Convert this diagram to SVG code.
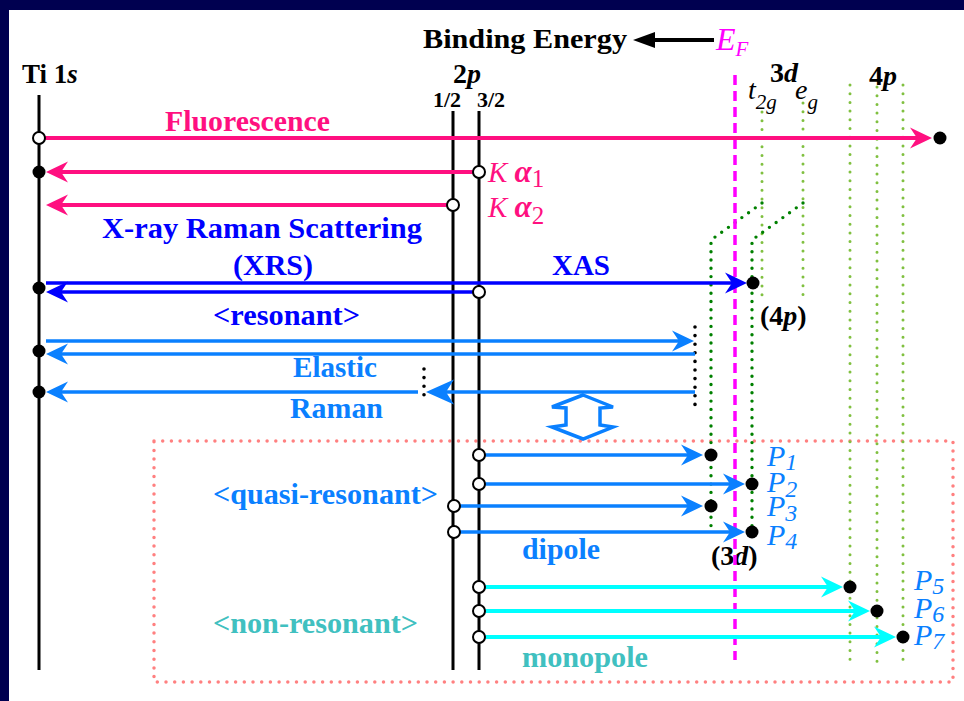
<svg xmlns="http://www.w3.org/2000/svg" width="964" height="701" viewBox="0 0 964 701">
<defs>
<style>
text{font-family:"Liberation Serif","Times New Roman",serif;}
.b{font-weight:bold}
.i{font-style:italic}
.lvl{stroke:#000;stroke-width:3;fill:none}
.dg{stroke:#80C040;stroke-width:3;stroke-dasharray:0 8.7;stroke-linecap:round;fill:none}
.ddg{stroke:#008000;stroke-width:3.4;stroke-dasharray:0 8.3;stroke-linecap:round;fill:none}
.kd{stroke:#000;stroke-width:3.6;stroke-dasharray:0 8.6;stroke-linecap:round;fill:none}
.open{fill:#fff;stroke:#000;stroke-width:2}
.dot{fill:#000}
.pk{stroke:#FF1080;stroke-width:4;fill:none}
.bl{stroke:#0000FF;stroke-width:3.5;fill:none}
.mb{stroke:#0A80FF;stroke-width:3.5;fill:none}
.cy{stroke:#00FFFF;stroke-width:4;fill:none}
.tpk{fill:#FF1080}
.tbl{fill:#0000FF}
.tmb{fill:#0A80FF}
.ttl{fill:#40C0C0}
</style>
<marker id="mPk" markerUnits="userSpaceOnUse" orient="auto" overflow="visible" markerWidth="24" markerHeight="24"><path d="M10,0 L-12,-10.5 L-5,0 L-12,10.5 Z" fill="#FF1080"/></marker>
<marker id="mBl" markerUnits="userSpaceOnUse" orient="auto" overflow="visible" markerWidth="24" markerHeight="24"><path d="M10,0 L-12,-10.5 L-5,0 L-12,10.5 Z" fill="#0000FF"/></marker>
<marker id="mMb" markerUnits="userSpaceOnUse" orient="auto" overflow="visible" markerWidth="24" markerHeight="24"><path d="M10,0 L-12,-10.5 L-5,0 L-12,10.5 Z" fill="#0A80FF"/></marker>
<marker id="mMbBig" markerUnits="userSpaceOnUse" orient="auto" overflow="visible" markerWidth="30" markerHeight="30"><path d="M12,0 L-16,-12.5 L-8,0 L-16,12.5 Z" fill="#0A80FF"/></marker>
<marker id="mCy" markerUnits="userSpaceOnUse" orient="auto" overflow="visible" markerWidth="24" markerHeight="24"><path d="M10,0 L-12,-10.5 L-5,0 L-12,10.5 Z" fill="#00FFFF"/></marker>
</defs>

<rect x="0" y="0" width="964" height="701" fill="#000050"/>
<rect x="9" y="10" width="955" height="691" fill="#FFFFFF"/>

<g id="title">
<text x="423" y="48" class="b" font-size="28" textLength="204" lengthAdjust="spacingAndGlyphs">Binding Energy</text>
<line x1="714" y1="40" x2="650" y2="40" stroke="#000" stroke-width="4"/>
<polygon points="633,40 655,32 655,48" fill="#000"/>
<text x="716" y="50" class="i" font-size="32" fill="#FF00FF">E<tspan font-size="21" dy="6">F</tspan></text>
</g>

<g id="box-nonresonant-region">
<rect x="154" y="441" width="799" height="241" fill="none" stroke="#FF8080" stroke-width="3.5" stroke-dasharray="0 8.7" stroke-linecap="round"/>
</g>

<g id="level-3d">
<path class="dg" d="M762,112 V298"/>
<path class="dg" d="M803,103 V300"/>
<path class="ddg" d="M762,203 L711,240 V528"/>
<path class="ddg" d="M803,203 L752,240 V532"/>
<text x="770" y="82" class="b" font-size="28">3<tspan class="i">d</tspan></text>
<text x="748" y="99" class="i" font-size="28">t<tspan font-size="21" dy="10">2g</tspan></text>
<text x="795" y="99" class="i" font-size="28">e<tspan font-size="21" dy="10">g</tspan></text>
<text x="760" y="325" class="b" font-size="28">(4<tspan class="i">p</tspan>)</text>
<text x="711" y="565" class="b" font-size="28">(3<tspan class="i">d</tspan>)</text>
</g>

<g id="level-4p">
<path class="dg" d="M850,85 V663"/>
<path class="dg" d="M877,87 V663"/>
<path class="dg" d="M903,85 V663"/>
<text x="869" y="85" class="b" font-size="28">4<tspan class="i">p</tspan></text>
</g>

<g id="fermi-level">
<line x1="735" y1="75" x2="735" y2="660" stroke="#FF00FF" stroke-width="3.5" stroke-dasharray="10 6"/>
</g>

<g id="level-Ti1s">
<line class="lvl" x1="39" y1="95" x2="39" y2="670"/>
<text x="22" y="83" class="b" font-size="27">Ti 1<tspan class="i">s</tspan></text>
</g>

<g id="level-2p">
<line class="lvl" x1="453" y1="111" x2="453" y2="670"/>
<line class="lvl" x1="479" y1="111" x2="479" y2="670"/>
<text x="453" y="83" class="b" font-size="28">2<tspan class="i">p</tspan></text>
<text x="433" y="107" class="b" font-size="22">1/2</text>
<text x="477" y="107" class="b" font-size="22">3/2</text>
</g>

<g id="continuum-dots">
<path class="kd" d="M695,327 V405"/>
<path class="kd" d="M424,369 V403" stroke-dasharray="0 11"/>
</g>

<g id="connectors">
<path class="pk" d="M39,138 H922" marker-end="url(#mPk)"/>
<path class="pk" d="M479,172 H56" marker-end="url(#mPk)"/>
<path class="pk" d="M453,205 H56" marker-end="url(#mPk)"/>
<path class="bl" d="M46,283 H737" marker-end="url(#mBl)"/>
<path class="bl" d="M479,292 H56" marker-end="url(#mBl)"/>
<path class="mb" d="M46,341 H684" marker-end="url(#mMb)"/>
<path class="mb" d="M695,354 H56" marker-end="url(#mMb)"/>
<path class="mb" d="M695,392 H438" marker-end="url(#mMbBig)"/>
<path class="mb" d="M418,392 H56" marker-end="url(#mMb)"/>
<path class="mb" d="M479,455 H693" marker-end="url(#mMb)"/>
<path class="mb" d="M479,484 H735" marker-end="url(#mMb)"/>
<path class="mb" d="M454,506 H693" marker-end="url(#mMb)"/>
<path class="mb" d="M454,532 H735" marker-end="url(#mMb)"/>
<path class="cy" d="M479,587 H833" marker-end="url(#mCy)"/>
<path class="cy" d="M479,611 H860" marker-end="url(#mCy)"/>
<path class="cy" d="M479,637 H886" marker-end="url(#mCy)"/>
<polygon points="583,395 613,407 600,408 600,425 613,427 583,439 552,427 566,425 566,408 552,407" fill="#fff" stroke="#0A80FF" stroke-width="3.5" stroke-linejoin="miter"/>
</g>

<g id="states">
<circle class="open" cx="39" cy="138" r="6"/>
<circle class="dot" cx="39" cy="172" r="6.5"/>
<circle class="dot" cx="39" cy="288" r="6.5"/>
<circle class="dot" cx="39" cy="351" r="6.5"/>
<circle class="dot" cx="39" cy="392" r="6.5"/>
<circle class="open" cx="479" cy="172" r="6"/>
<circle class="open" cx="453" cy="205" r="6"/>
<circle class="open" cx="479" cy="292" r="6"/>
<circle class="open" cx="479" cy="455" r="6"/>
<circle class="open" cx="479" cy="484" r="6"/>
<circle class="open" cx="454" cy="506" r="6"/>
<circle class="open" cx="454" cy="532" r="6"/>
<circle class="open" cx="479" cy="587" r="6"/>
<circle class="open" cx="479" cy="611" r="6"/>
<circle class="open" cx="479" cy="637" r="6"/>
<circle class="dot" cx="940" cy="138" r="6.5"/>
<circle class="dot" cx="753" cy="283" r="6.5"/>
<circle class="dot" cx="711" cy="455" r="6.5"/>
<circle class="dot" cx="752" cy="484" r="6.5"/>
<circle class="dot" cx="711" cy="506" r="6.5"/>
<circle class="dot" cx="752" cy="532" r="6.5"/>
<circle class="dot" cx="850" cy="587" r="6.5"/>
<circle class="dot" cx="877" cy="611" r="6.5"/>
<circle class="dot" cx="903" cy="637" r="6.5"/>
</g>

<g id="labels">
<text x="165" y="131" class="b tpk" font-size="30" textLength="165" lengthAdjust="spacingAndGlyphs">Fluorescence</text>
<text x="488" y="182" class="i tpk" font-size="29">K <tspan font-weight="bold" font-size="31">α</tspan><tspan font-size="25" dy="5" font-style="normal">1</tspan></text>
<text x="488" y="217" class="i tpk" font-size="29">K <tspan font-weight="bold" font-size="31">α</tspan><tspan font-size="25" dy="7" font-style="normal">2</tspan></text>
<text x="102" y="238" class="b tbl" font-size="30" textLength="320" lengthAdjust="spacingAndGlyphs">X-ray Raman Scattering</text>
<text x="233" y="275" class="b tbl" font-size="30" textLength="80" lengthAdjust="spacingAndGlyphs">(XRS)</text>
<text x="552" y="275" class="b tbl" font-size="30" textLength="58" lengthAdjust="spacingAndGlyphs">XAS</text>
<text x="213" y="325" class="b tbl" font-size="30" textLength="147" lengthAdjust="spacingAndGlyphs">&lt;resonant&gt;</text>
<text x="293" y="377" class="b tmb" font-size="30" textLength="84" lengthAdjust="spacingAndGlyphs">Elastic</text>
<text x="290" y="418" class="b tmb" font-size="30" textLength="93" lengthAdjust="spacingAndGlyphs">Raman</text>
<text x="213" y="504" class="b tmb" font-size="30" textLength="225" lengthAdjust="spacingAndGlyphs">&lt;quasi-resonant&gt;</text>
<text x="522" y="559" class="b tmb" font-size="30" textLength="78" lengthAdjust="spacingAndGlyphs">dipole</text>
<text x="213" y="633" class="b ttl" font-size="30" textLength="205" lengthAdjust="spacingAndGlyphs">&lt;non-resonant&gt;</text>
<text x="522" y="667" class="b ttl" font-size="30" textLength="126" lengthAdjust="spacingAndGlyphs">monopole</text>
<text x="767" y="466" class="i tmb" font-size="30">P<tspan font-size="24" dy="4">1</tspan></text>
<text x="767" y="492" class="i tmb" font-size="30">P<tspan font-size="24" dy="5">2</tspan></text>
<text x="767" y="516" class="i tmb" font-size="30">P<tspan font-size="24" dy="5">3</tspan></text>
<text x="767" y="545" class="i tmb" font-size="30">P<tspan font-size="24" dy="4">4</tspan></text>
<text x="914" y="590" class="i tmb" font-size="30">P<tspan font-size="24" dy="4">5</tspan></text>
<text x="914" y="618" class="i tmb" font-size="30">P<tspan font-size="24" dy="4">6</tspan></text>
<text x="914" y="645" class="i tmb" font-size="30">P<tspan font-size="24" dy="4">7</tspan></text>
</g>
</svg>
